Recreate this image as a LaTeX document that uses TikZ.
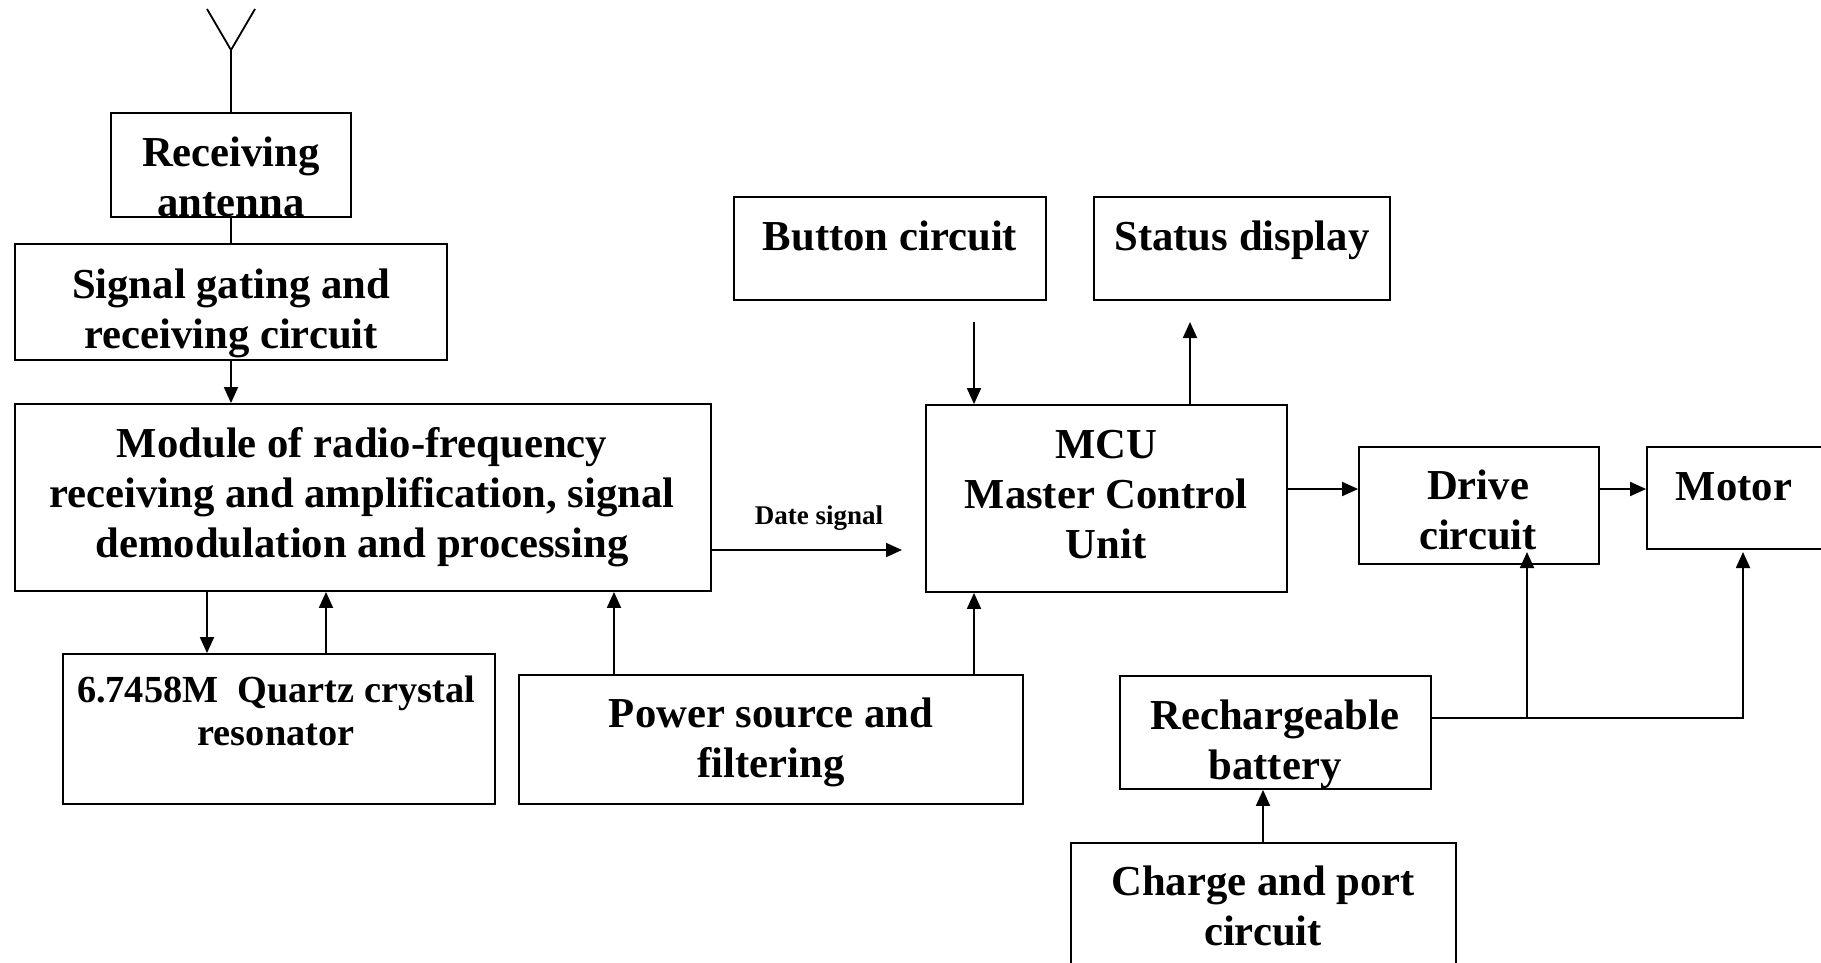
\documentclass[tikz,border=0pt]{standalone}
\usepackage{fontspec}
\setmainfont{Liberation Serif}
\usetikzlibrary{arrows.meta}

\begin{document}
\begin{tikzpicture}[
        x=1pt, y=-1pt,
        bloc/.style = {draw, rectangle, line width=1.8pt, inner sep=0pt},
        txt/.style = {align=center, inner sep=0pt,
            font=\bfseries\fontsize{42.7}{50}\selectfont,
            execute at begin node=\strut, execute at end node=\strut},
        ptxt/.style = {txt, font=\bfseries\fontsize{38.3}{43}\selectfont},
        fil/.style = {line width=1.8pt},
        fleche/.style = {line width=1.8pt, -{Triangle[length=16pt, width=14pt]}}
    ]
        \useasboundingbox (0,0) rectangle (1821,963);
        \clip (0,0) rectangle (1821,963);

        % Blocs (positions en pixels de l'image)
        \node[bloc, minimum width=240pt, minimum height=104pt] (ant) at (231,165) {};
        \node[bloc, minimum width=432pt, minimum height=116pt] (sig) at (231,302) {};
        \node[bloc, minimum width=696pt, minimum height=187pt] (mod) at (363,497.5) {};
        \node[bloc, minimum width=432pt, minimum height=150pt] (qz) at (279,729) {};
        \node[bloc, minimum width=504pt, minimum height=129pt] (pwr) at (771,739.5) {};
        \node[bloc, minimum width=312pt, minimum height=103pt] (btn) at (890,248.5) {};
        \node[bloc, minimum width=296pt, minimum height=103pt] (stat) at (1242,248.5) {};
        \node[bloc, minimum width=361pt, minimum height=187pt] (mcu) at (1106.5,498.5) {};
        \node[bloc, minimum width=240pt, minimum height=117pt] (drv) at (1479,505.5) {};
        \node[bloc, minimum width=193pt, minimum height=102pt] (mot) at (1743.5,498) {};
        \node[bloc, minimum width=311pt, minimum height=113pt] (bat) at (1275.5,732.5) {};
        \node[bloc, minimum width=385pt, minimum height=142pt] (chg) at (1263.5,914) {};

        % Textes des blocs
        \node[txt] (ant-t) at (231,184) {Receiving\\antenna};
        \node[txt] (sig-t) at (231,316) {Signal gating and\\receiving circuit};
        \node[txt] (mod-t) at (362,500) {Module of radio-frequency\\receiving and amplification, signal\\demodulation and processing};
        \node[ptxt] (qz-t) at (276,717.5) {6.7458M\ \ Quartz crystal\\resonator};
        \node[txt] (pwr-t) at (771,745) {Power source and\\filtering};
        \node[txt] (btn-t) at (890,240) {Button circuit};
        \node[txt] (stat-t) at (1242,240) {Status display};
        \node[txt] (mcu-t) at (1106,502) {MCU\\Master Control\\Unit};
        \node[txt] (drv-t) at (1478,517) {Drive\\circuit};
        \node[txt] (mot-t) at (1734,490) {Motor};
        \node[txt] (bat-t) at (1275,747) {Rechargeable\\battery};
        \node[txt] (chg-t) at (1263,913) {Charge and port\\circuit};

        % Antenne
        \coordinate (pointe) at (231,50);
        \draw[fil] (207,9) -- (pointe) -- (255,9);
        \draw[fil] (pointe) -- (ant.north);
        \draw[fil] (ant.south) -- (sig.north);

        % Liaisons
        \draw[fleche] (sig.south) -- (sig.south |- mod.north);
        \draw[fleche] (mod.south -| 207,0) -- (qz.north -| 207,0);
        \draw[fleche] (qz.north -| 326,0) -- (mod.south -| 326,0);
        \draw[fleche] (pwr.north -| 614,0) -- (mod.south -| 614,0);
        \draw[fleche] (pwr.north -| 974,0) -- (mcu.south -| 974,0);

        \coordinate (ds) at (902,550);
        \draw[fleche] (mod.east |- ds) -- (ds);
        \node[font=\bfseries\fontsize{27}{31}\selectfont, inner sep=0pt] (ds-t) at (819,518) {Date signal};

        \coordinate (bt) at (974,322);
        \coordinate (st) at (1190,322);
        \draw[fleche] (bt) -- (mcu.north -| bt);
        \draw[fleche] (mcu.north -| st) -- (st);
        \draw[fleche] (mcu.east |- 0,489) -- (drv.west |- 0,489);
        \draw[fleche] (drv.east |- 0,489) -- (mot.west |- 0,489);

        % Alimentation par la batterie
        \coordinate (jn) at (1527,718);
        \coordinate (dd) at (1527,552);
        \coordinate (dm) at (1743,552);
        \draw[fleche] (bat.east |- jn) -| (dm);
        \draw[fleche] (jn) -- (dd);
        \draw[fleche] (chg.north -| 1263,0) -- (bat.south -| 1263,0);

    \end{tikzpicture}
\end{document}
